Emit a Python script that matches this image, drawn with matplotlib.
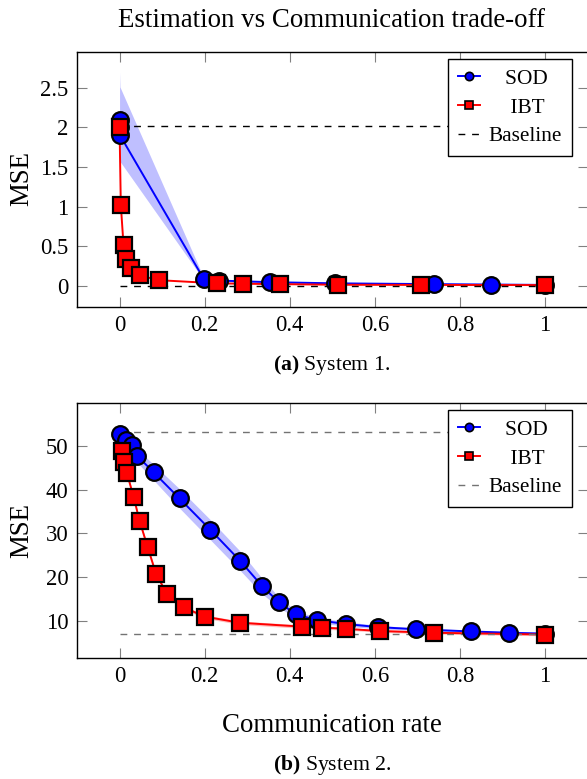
import matplotlib
matplotlib.use('Agg')
import matplotlib.pyplot as plt
from matplotlib.lines import Line2D
from matplotlib.ticker import FuncFormatter

# ---------------- data ----------------
# System 1
s1_sod_x = [0.0, 0.0005, 0.001, 0.198, 0.233, 0.353, 0.507, 0.739, 0.874, 1.0]
s1_sod_y = [2.09, 2.0, 1.90, 0.085, 0.065, 0.045, 0.03, 0.02, 0.015, 0.01]
s1_sod_hi = [2.70, 2.60, 2.51, 0.10, 0.08, 0.055, 0.04, 0.03, 0.02, 0.015]
s1_sod_lo = [1.60, 1.58, 1.57, 0.07, 0.05, 0.035, 0.02, 0.01, 0.01, 0.005]

s1_ibt_x = [0.0, 0.003, 0.0094, 0.0157, 0.0275, 0.047, 0.092, 0.229, 0.290, 0.378, 0.513, 0.708, 1.0]
s1_ibt_y = [2.0, 1.02, 0.51, 0.34, 0.22, 0.13, 0.07, 0.03, 0.025, 0.02, 0.012, 0.01, 0.008]

s1_base = [2.02, 0.0]

# System 2
s2_sod_x = [0.002, 0.015, 0.029, 0.042, 0.080, 0.141, 0.213, 0.283, 0.334, 0.374,
            0.415, 0.464, 0.532, 0.607, 0.698, 0.827, 0.915, 1.0]
s2_sod_y = [52.7, 51.4, 50.3, 47.7, 44.0, 38.0, 30.9, 23.8, 18.1, 14.3,
            11.5, 10.2, 9.3, 8.6, 8.1, 7.6, 7.3, 7.1]
s2_sod_err = [0.8, 1.0, 1.2, 1.5, 1.8, 2.2, 2.3, 2.2, 1.8, 1.2,
              0.8, 0.6, 0.5, 0.4, 0.3, 0.3, 0.3, 0.3]

s2_ibt_x = [0.0055, 0.011, 0.017, 0.033, 0.047, 0.066, 0.086, 0.112, 0.151,
            0.200, 0.282, 0.429, 0.475, 0.532, 0.613, 0.739, 1.0]
s2_ibt_y = [48.8, 46.4, 43.9, 38.4, 32.9, 26.9, 20.7, 16.1, 13.1,
            11.0, 9.6, 8.7, 8.5, 8.2, 7.7, 7.3, 6.9]
s2_ibt_err = [0.4, 0.4, 0.4, 0.4, 0.4, 0.4, 0.4, 0.4, 0.4,
              0.4, 0.4, 0.4, 0.4, 0.3, 0.3, 0.3, 0.3]

s2_base = [53.2, 7.0]

base_x = [0.0, 1.0]
xticks = [0, 0.2, 0.4, 0.6, 0.8, 1]
s1_yticks = [0, 0.5, 1, 1.5, 2, 2.5]
s2_yticks = [10, 20, 30, 40, 50]

# ---------------- style ----------------
plt.rcParams['font.family'] = ['Liberation Serif', 'DejaVu Serif']
plt.rcParams['mathtext.fontset'] = 'custom'
plt.rcParams['mathtext.bf'] = 'Liberation Serif:bold'
plt.rcParams['mathtext.rm'] = 'Liberation Serif'

BLUE = '#0000ff'
RED = '#ff0000'
DASH = (4.9, 4.9)

fig = plt.figure(figsize=(5.87, 7.79), dpi=100)
W, H = 587.0, 779.0
ax1 = fig.add_axes([77 / W, 1 - 306.7 / H, 510.5 / W, 255 / H])
ax2 = fig.add_axes([77 / W, 1 - 657.7 / H, 510.5 / W, 255 / H])


def draw(ax, sod_x, sod_y, lo, hi, ibt_x, ibt_y, ibt_lo, ibt_hi, base, base_col):
    ax.fill_between(sod_x, lo, hi, color=BLUE, alpha=0.25, lw=0, zorder=1)
    if ibt_lo is not None:
        ax.fill_between(ibt_x, ibt_lo, ibt_hi, color=RED, alpha=0.25, lw=0, zorder=1)
    ax.plot(sod_x, sod_y, color=BLUE, lw=1.4, zorder=2)
    ax.plot(ibt_x, ibt_y, color=RED, lw=1.4, zorder=2)
    for b in base:
        ax.plot(base_x, [b, b], color=base_col, lw=1.0, dashes=DASH, zorder=2.5)
    ax.plot(sod_x, sod_y, 'o', ms=12, mfc=BLUE, mec='black', mew=1.6, zorder=3)
    ax.plot(ibt_x, ibt_y, 's', ms=11.5, mfc=RED, mec='black', mew=1.6, zorder=3.1)

    ax.set_xlim(-0.1, 1.1)
    ax.set_xticks(xticks)
    ax.xaxis.set_major_formatter(FuncFormatter(lambda v, p: '%g' % v))
    ax.yaxis.set_major_formatter(FuncFormatter(lambda v, p: '%g' % v))
    ax.tick_params(direction='in', length=7.2, width=0.8, color='0.5',
                   top=True, right=True, labelsize=16.3, pad=6)
    for sp in ax.spines.values():
        sp.set_linewidth(1.0)

    # legend (labels padded so they sit centred like the original)
    handles = [
        Line2D([], [], color=BLUE, lw=1.4, marker='o', ms=6, mfc=BLUE, mec='black', mew=1.2),
        Line2D([], [], color=RED, lw=1.4, marker='s', ms=6, mfc=RED, mec='black', mew=1.2),
        Line2D([], [], color=base_col, lw=1.0, dashes=DASH),
    ]
    leg = ax.legend(handles, ['   SOD', '    IBT', 'Baseline'],
                    loc='upper right', bbox_to_anchor=(0.969, 0.970), borderaxespad=0,
                    fontsize=15.3, frameon=True, fancybox=False, framealpha=1,
                    edgecolor='black', handlelength=1.05, handletextpad=0.4,
                    labelspacing=0.42, borderpad=0.45)
    leg.get_frame().set_linewidth(1.0)
    leg.set_zorder(5)


# System 1
draw(ax1, s1_sod_x, s1_sod_y, s1_sod_lo, s1_sod_hi, s1_ibt_x, s1_ibt_y, None, None,
     s1_base, 'black')
ax1.set_ylim(-0.265, 2.955)
ax1.set_yticks(s1_yticks)

# System 2
lo2 = [y - e for y, e in zip(s2_sod_y, s2_sod_err)]
hi2 = [y + e for y, e in zip(s2_sod_y, s2_sod_err)]
ilo2 = [y - e for y, e in zip(s2_ibt_y, s2_ibt_err)]
ihi2 = [y + e for y, e in zip(s2_ibt_y, s2_ibt_err)]
draw(ax2, s2_sod_x, s2_sod_y, lo2, hi2, s2_ibt_x, s2_ibt_y, ilo2, ihi2, s2_base, '0.45')
ax2.set_ylim(1.6, 59.9)
ax2.set_yticks(s2_yticks)

# texts
fig.text(332 / W, 1 - 27 / H, 'Estimation vs Communication trade-off',
         ha='center', va='baseline', fontsize=19.4)
fig.text(22 / W, 1 - 179 / H, 'MSE', rotation=90, ha='center', va='center', fontsize=19.4)
fig.text(22 / W, 1 - 530 / H, 'MSE', rotation=90, ha='center', va='center', fontsize=19.4)
fig.text(332 / W, 1 - 370 / H, r'$\mathbf{(a)}$ System 1.', ha='center', va='baseline', fontsize=15.7)
fig.text(332 / W, 1 - 732 / H, 'Communication rate', ha='center', va='baseline', fontsize=19.4)
fig.text(332 / W, 1 - 770 / H, r'$\mathbf{(b)}$ System 2.', ha='center', va='baseline', fontsize=15.7)

fig.savefig('out.png', dpi=100)
